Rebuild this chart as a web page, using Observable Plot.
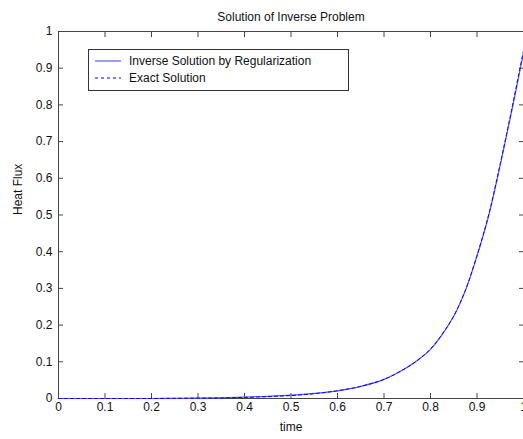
<!DOCTYPE html>
<html>
<head>
<meta charset="utf-8">
<script src="https://cdn.jsdelivr.net/npm/d3@7"></script>
<script src="https://cdn.jsdelivr.net/npm/@observablehq/plot@0.6"></script>
<style>
  html, body { margin: 0; padding: 0; background: #fff; }
  #wrap { position: relative; width: 523px; height: 439px; overflow: hidden; font-family: "Liberation Sans", Arial, sans-serif; }
  #legend { position: absolute; left: 88px; top: 49px; width: 259px; height: 40px; border: 1px solid #333; background: #fff; font-size: 12px; color: #111; }
  #legend .row { position: absolute; left: 6px; height: 14px; display: flex; align-items: center; }
  #legend svg { width: 26px; height: 10px; margin-right: 8px; }
</style>
</head>
<body>
<div id="wrap">
  <div id="chart"></div>
  <div id="legend">
    <div class="row" style="top:4px">
      <svg><line x1="0" y1="5" x2="26" y2="5" stroke="#5a5aff" stroke-width="1.2"/></svg>
      <span>Inverse Solution by Regularization</span>
    </div>
    <div class="row" style="top:21px">
      <svg><line x1="0" y1="5" x2="26" y2="5" stroke="#0000ee" stroke-width="1" stroke-dasharray="3,3"/></svg>
      <span>Exact Solution</span>
    </div>
  </div>
</div>
<script>
// Sample times and heat flux values
const times = [0, 0.05, 0.1, 0.15, 0.2, 0.25, 0.3, 0.35, 0.4, 0.45, 0.5, 0.55, 0.6, 0.65, 0.7, 0.75, 0.775, 0.8, 0.825, 0.85, 0.875, 0.9, 0.925, 0.95, 0.975, 1.0];
const inverseFlux = [0, 0, 0, 0, 0, 0.0005, 0.001, 0.002, 0.004, 0.006, 0.009, 0.014, 0.021, 0.033, 0.052, 0.085, 0.107, 0.134, 0.174, 0.224, 0.294, 0.388, 0.498, 0.636, 0.785, 0.942];
const exactFlux   = [0, 0, 0, 0, 0, 0.0005, 0.001, 0.0015, 0.003, 0.005, 0.008, 0.013, 0.021, 0.033, 0.052, 0.085, 0.107, 0.135, 0.175, 0.225, 0.295, 0.39, 0.5, 0.64, 0.79, 0.948];

const xTicks = d3.range(0, 11).map(i => i / 10);
const yTicks = d3.range(0, 11).map(i => i / 10);
const tickLabel = d => String(d);

const inverseData = times.map((t, i) => ({t, v: inverseFlux[i]}));
const exactData = times.map((t, i) => ({t, v: exactFlux[i]}));

const axisColor = "#444";
const fontStyle = {fontFamily: "Liberation Sans, Arial, sans-serif", fontSize: "12px"};

const chart = Plot.plot({
  width: 523,
  height: 439,
  marginLeft: 58,
  marginRight: 0,
  marginTop: 31,
  marginBottom: 41,
  style: {...fontStyle, background: "#fff", color: "#111", overflow: "visible"},
  x: {domain: [0, 1]},
  y: {domain: [0, 1]},
  marks: [
    Plot.frame({stroke: axisColor}),
    Plot.axisX({ticks: xTicks, tickSize: -5, tickPadding: 9, tickFormat: tickLabel, label: null, stroke: axisColor, fill: "#111"}),
    Plot.axisX({anchor: "top", ticks: xTicks, tickSize: -5, tickFormat: () => "", label: null, stroke: axisColor}),
    Plot.axisY({ticks: yTicks, tickSize: -5, tickPadding: 11, tickFormat: tickLabel, label: null, stroke: axisColor, fill: "#111"}),
    Plot.axisY({anchor: "right", ticks: yTicks, tickSize: -5, tickFormat: () => "", label: null, stroke: axisColor}),
    Plot.line(inverseData, {x: "t", y: "v", stroke: "#5a5aff", strokeWidth: 1.2, curve: "catmull-rom"}),
    Plot.line(exactData, {x: "t", y: "v", stroke: "#0000ee", strokeWidth: 1, strokeDasharray: "3,3", curve: "catmull-rom"}),
    Plot.text(["Solution of Inverse Problem"], {frameAnchor: "top", dy: -19, fill: "#111", fontSize: 12}),
    Plot.text(["time"], {frameAnchor: "bottom", dy: 32, fill: "#111", fontSize: 12}),
    Plot.text(["Heat Flux"], {frameAnchor: "left", dx: -40, rotate: -90, fill: "#111", fontSize: 12})
  ]
});

document.getElementById("chart").appendChild(chart);
</script>
</body>
</html>
